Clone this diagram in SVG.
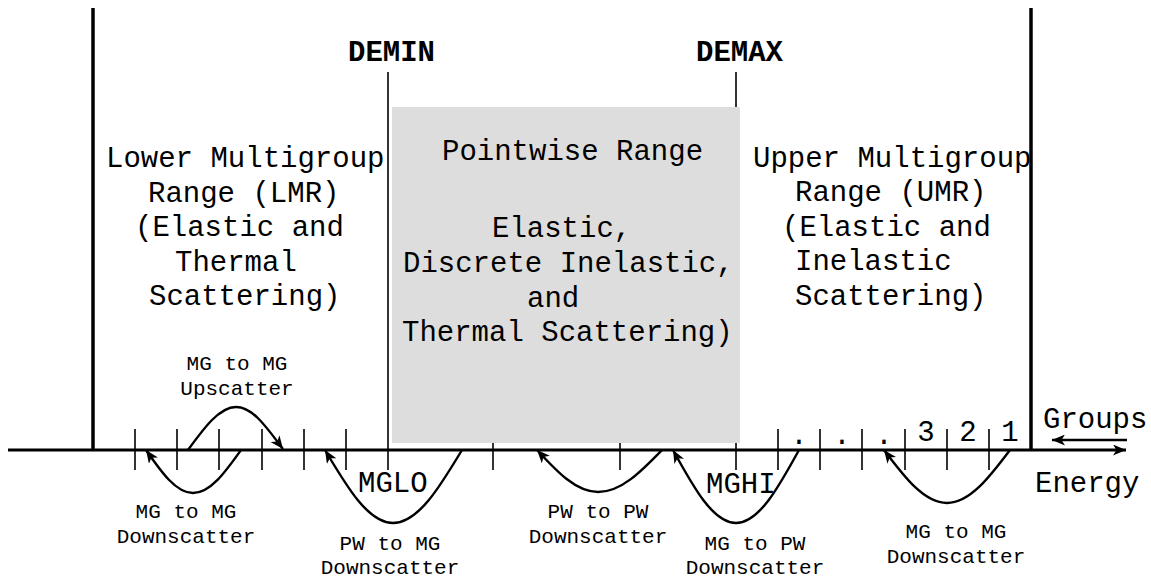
<svg xmlns="http://www.w3.org/2000/svg" width="1151" height="579" viewBox="0 0 1151 579">
<style>
text{font-family:"Liberation Mono","Courier New",monospace;fill:#000}
.big{font-size:29px}
.bold{font-size:29px;font-weight:bold}
.sm{font-size:21px}
.mid{text-anchor:middle}
.tick{stroke:#000;stroke-width:1.6;fill:none}
.thick{stroke:#000;stroke-width:3.5;fill:none}
.curve{stroke:#000;stroke-width:2.4;fill:none}
</style>
<defs>
<marker id="ah" markerUnits="userSpaceOnUse" markerWidth="14" markerHeight="11" viewBox="0 0 14 11" refX="13" refY="5.5" orient="auto">
<path d="M0,0 L13,5.5 L0,11 L3.5,5.5 z" fill="#000"/>
</marker>
</defs>
<rect width="1151" height="579" fill="#fff"/>

<g id="axis">
<line class="thick" x1="93" y1="8" x2="93" y2="450"/>
<line class="thick" x1="1031" y1="8" x2="1031" y2="450"/>
<line x1="388" y1="72" x2="388" y2="470" class="tick"/>
<line x1="736" y1="72" x2="736" y2="470" class="tick"/>
<g class="tick">
<line x1="135" y1="429" x2="135" y2="470"/>
<line x1="177" y1="429" x2="177" y2="470"/>
<line x1="219" y1="429" x2="219" y2="470"/>
<line x1="262" y1="429" x2="262" y2="470"/>
<line x1="304" y1="429" x2="304" y2="470"/>
<line x1="346" y1="429" x2="346" y2="470"/>
<line x1="493" y1="429" x2="493" y2="470"/>
<line x1="620" y1="429" x2="620" y2="470"/>
<line x1="778" y1="429" x2="778" y2="470"/>
<line x1="820" y1="429" x2="820" y2="470"/>
<line x1="862" y1="429" x2="862" y2="470"/>
<line x1="905" y1="429" x2="905" y2="470"/>
<line x1="947" y1="429" x2="947" y2="470"/>
<line x1="989" y1="429" x2="989" y2="470"/>
</g>
</g>

<g id="pointwise-range">
<rect x="392" y="107" width="348" height="336" fill="#dddddd"/>
<text class="big" x="442" y="160">Pointwise Range</text>
<text class="big" x="492" y="237">Elastic,</text>
<text class="big" x="403" y="272">Discrete Inelastic,</text>
<text class="big" x="527" y="307">and</text>
<text class="big" x="402" y="341">Thermal Scattering)</text>
</g>

<line x1="8" y1="450" x2="1126" y2="450" stroke="#000" stroke-width="3" marker-end="url(#ah)"/>

<g id="demin"><text class="bold" x="348" y="61">DEMIN</text></g>
<g id="demax"><text class="bold" x="696" y="61">DEMAX</text></g>

<g id="lmr">
<text class="big" x="106" y="167">Lower Multigroup</text>
<text class="big" x="148" y="202">Range (LMR)</text>
<text class="big" x="135" y="236">(Elastic and</text>
<text class="big" x="175" y="271">Thermal</text>
<text class="big" x="149" y="305">Scattering)</text>
</g>

<g id="umr">
<text class="big" x="753" y="167">Upper Multigroup</text>
<text class="big" x="795" y="201">Range (UMR)</text>
<text class="big" x="782" y="236">(Elastic and</text>
<text class="big" x="795" y="270">Inelastic</text>
<text class="big" x="795" y="305">Scattering)</text>
</g>

<g id="marks">
<text class="big" x="358" y="492">MGLO</text>
<text class="big" x="706" y="493">MGHI</text>
<text class="big mid" x="799" y="444">.</text>
<text class="big mid" x="842" y="444">.</text>
<text class="big mid" x="884" y="444">.</text>
<text class="big mid" x="926" y="441">3</text>
<text class="big mid" x="968" y="441">2</text>
<text class="big mid" x="1010" y="441">1</text>
</g>

<g id="groups">
<text class="big" x="1043" y="428">Groups</text>
<line x1="1127" y1="440" x2="1052" y2="440" stroke="#000" stroke-width="2.5" marker-end="url(#ah)"/>
</g>
<g id="energy"><text class="big" x="1035" y="492">Energy</text></g>

<g id="connectors" class="curve">
<path class="curve" marker-end="url(#ah)" d="M188,450 C204,428 219.3,407 236,407 C253.3,407 267.3,428.5 283,449"/>
<path class="curve" marker-end="url(#ah)" d="M241,450 C225.3,472 210.4,493 193,493 C176,493 161.3,472 146,450"/>
<path class="curve" marker-end="url(#ah)" d="M462,450 C439.5,487.4 418,523 393,523 C368.4,523 347.2,487.4 325,450"/>
<path class="curve" marker-end="url(#ah)" d="M662,450 C641.1,471.5 621.2,492 598,492 C575.9,492 556.9,471.5 537,450"/>
<path class="curve" marker-end="url(#ah)" d="M799,450 C778.5,487.4 758.8,523 736,523 C713.2,523 693.5,487.4 673,450"/>
<path class="curve" marker-end="url(#ah)" d="M1010,450 C989.5,477.2 969.8,503 947,503 C924.2,503 904.5,477.2 884,450"/>
</g>

<g id="labels" class="sm">
<text class="sm mid" x="237" y="370">MG to MG</text>
<text class="sm mid" x="237" y="395">Upscatter</text>
<text class="sm mid" x="186" y="518">MG to MG</text>
<text class="sm mid" x="186" y="543">Downscatter</text>
<text class="sm mid" x="390" y="550">PW to MG</text>
<text class="sm mid" x="390" y="574">Downscatter</text>
<text class="sm mid" x="598" y="518">PW to PW</text>
<text class="sm mid" x="598" y="543">Downscatter</text>
<text class="sm mid" x="755" y="550">MG to PW</text>
<text class="sm mid" x="755" y="574">Downscatter</text>
<text class="sm mid" x="956" y="538">MG to MG</text>
<text class="sm mid" x="956" y="563">Downscatter</text>
</g>
</svg>
